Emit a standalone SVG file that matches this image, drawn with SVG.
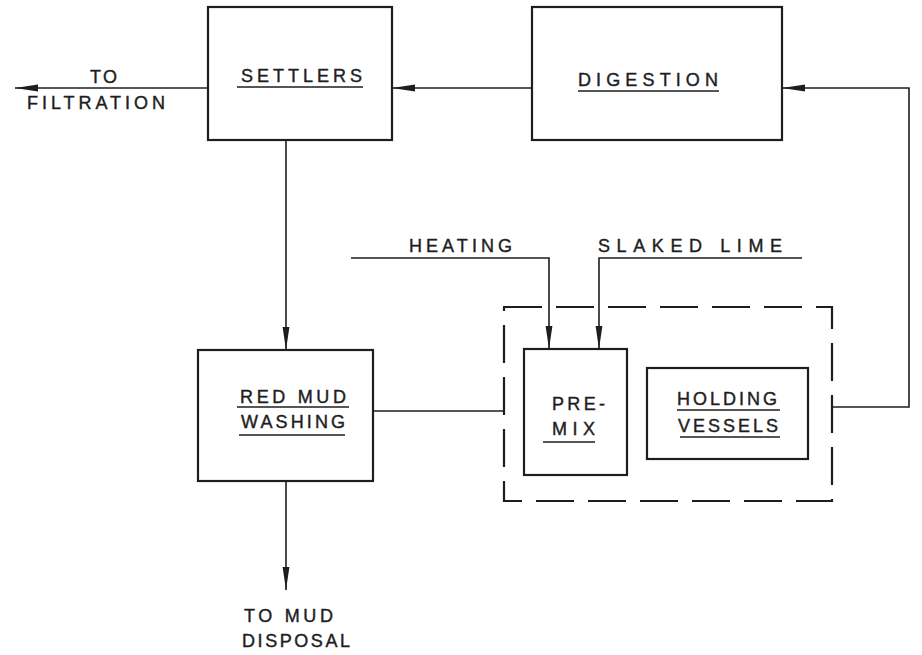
<svg xmlns="http://www.w3.org/2000/svg" width="922" height="655" viewBox="0 0 922 655">
<style>
.box{fill:none;stroke:#1e1e1e;stroke-width:2.2}
.ln{fill:none;stroke:#1e1e1e;stroke-width:1.6}
.ul{fill:none;stroke:#1e1e1e;stroke-width:1.6}
.dash{fill:none;stroke:#1e1e1e;stroke-width:2.2;stroke-dasharray:38 14}
text{font-family:"Liberation Sans",Arial,sans-serif;font-size:18px;fill:#1e1e1e;stroke:#1e1e1e;stroke-width:0.4}
</style>
<defs>
<marker id="ah" markerUnits="userSpaceOnUse" markerWidth="24" markerHeight="10" refX="23" refY="4" orient="auto">
<path d="M0,0.6 L23,4 L0,7.4 Z" fill="#1e1e1e"/>
</marker>
</defs>
<rect width="922" height="655" fill="#fff"/>
<g id="settlers">
<rect class="box" x="208" y="7" width="184" height="133"/>
<text x="241" y="82" textLength="121" lengthAdjust="spacing">SETTLERS</text>
<line class="ul" x1="237" y1="87" x2="363" y2="87"/>
</g>
<g id="digestion">
<rect class="box" x="532" y="7" width="250" height="133"/>
<text x="578" y="86" textLength="140" lengthAdjust="spacing">DIGESTION</text>
<line class="ul" x1="578" y1="91" x2="719" y2="91"/>
</g>
<g id="red-mud-washing">
<rect class="box" x="198" y="350" width="175" height="131"/>
<text x="240" y="403" textLength="106" lengthAdjust="spacing">RED MUD</text>
<line class="ul" x1="237" y1="407" x2="349" y2="407"/>
<text x="241" y="428" textLength="104" lengthAdjust="spacing">WASHING</text>
<line class="ul" x1="239" y1="435" x2="345" y2="435"/>
</g>
<g id="premix-holding-group">
<rect class="dash" x="504" y="307" width="328" height="194"/>
</g>
<g id="premix">
<rect class="box" x="524" y="349" width="103" height="126"/>
<text x="552" y="410" textLength="53" lengthAdjust="spacing">PRE-</text>
<text x="552" y="435" textLength="43" lengthAdjust="spacing">MIX</text>
<line class="ul" x1="543" y1="442" x2="595" y2="442"/>
</g>
<g id="holding-vessels">
<rect class="box" x="647" y="368" width="161" height="91"/>
<text x="677" y="405" textLength="100" lengthAdjust="spacing">HOLDING</text>
<line class="ul" x1="677" y1="410" x2="780" y2="410"/>
<text x="678" y="432" textLength="100" lengthAdjust="spacing">VESSELS</text>
<line class="ul" x1="680" y1="437" x2="780" y2="437"/>
</g>
<g id="labels">
<text x="90" y="83" textLength="27" lengthAdjust="spacing">TO</text>
<text x="27" y="109" textLength="138" lengthAdjust="spacing">FILTRATION</text>
<text x="409" y="252" textLength="103" lengthAdjust="spacing">HEATING</text>
<text x="598" y="252" textLength="184" lengthAdjust="spacing">SLAKED LIME</text>
<text x="244" y="622" textLength="89" lengthAdjust="spacing">TO MUD</text>
<text x="242" y="647" textLength="108" lengthAdjust="spacing">DISPOSAL</text>
</g>
<g id="connectors">
<line class="ln" x1="208" y1="88" x2="15" y2="88" marker-end="url(#ah)"/>
<line class="ln" x1="532" y1="88" x2="392" y2="88" marker-end="url(#ah)"/>
<polyline class="ln" points="832,407 909,407 909,88 782,88" marker-end="url(#ah)"/>
<line class="ln" x1="286" y1="140" x2="286" y2="350" marker-end="url(#ah)"/>
<line class="ln" x1="373" y1="411" x2="504" y2="411"/>
<polyline class="ln" points="351,258 549,258 549,349" marker-end="url(#ah)"/>
<polyline class="ln" points="802,258 599,258 599,349" marker-end="url(#ah)"/>
<line class="ln" x1="286" y1="481" x2="286" y2="590" marker-end="url(#ah)"/>
</g>
</svg>
